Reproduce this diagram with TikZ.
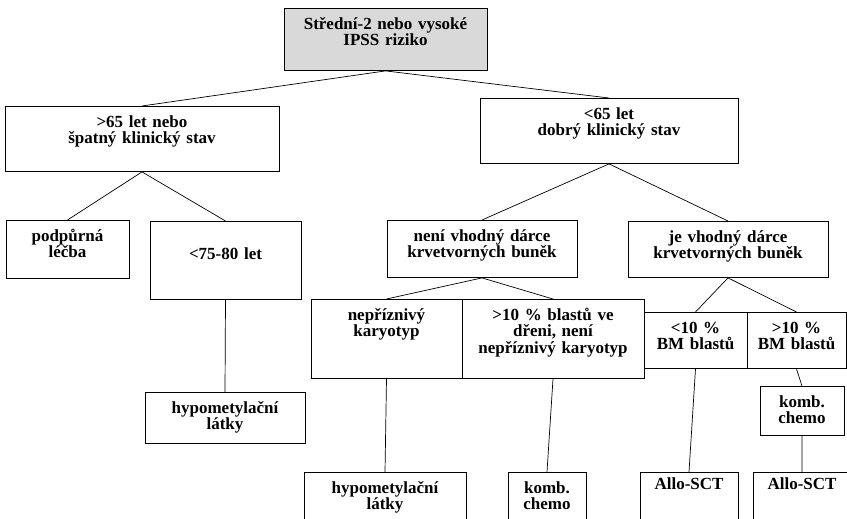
\documentclass[tikz,border=0pt]{standalone}
\usepackage{fontspec}
\setmainfont{Liberation Serif}

\tikzset{
  box/.style 2 args={draw, line width=0.9pt, anchor=north, inner sep=0pt,
    text width=#1, text height=21pt, text depth=#2, align=center,
    font=\fontsize{17}{16.5}\selectfont\bfseries},
  link/.style={line width=0.7pt},
}

\begin{document}
\begin{tikzpicture}[x=1pt,y=-1pt]
    \useasboundingbox (0,0) rectangle (847,519);
    \fill[white] (0,0) rectangle (847,519);
    \clip (0,0) rectangle (847,519);
    % first levels
    \node[box={203pt}{41pt}, fill=gray!30] (risk) at (385.5,8) {Střední-2 nebo vysoké\\IPSS riziko};
    \node[box={274pt}{44pt}] (old) at (142,106) {>65 let nebo\\špatný klinický stav};
    \node[box={258pt}{44pt}] (young) at (609,98) {<65 let\\dobrý klinický stav};
    \node[box={123pt}{37pt}] (support) at (67.5,220) {podpůrná\\léčba};
    \node[box={151pt}{40pt}, text height=38pt] (age) at (225.5,221) {<75-80 let};
    \node[box={160pt}{30pt}] (hypoA) at (225,392) {hypometylační\\látky};
    \node[box={190pt}{36pt}] (nodonor) at (482,220) {není vhodný dárce\\krvetvorných buněk};
    \node[box={200pt}{35pt}] (donor) at (728,221) {je vhodný dárce\\krvetvorných buněk};
    % karyotype / blasts
    \node[box={151pt}{58pt}] (adverse) at (386.5,299) {nepříznivý\\karyotyp};
    \node[box={182pt}{58pt}] (blasts) at (553,299) {>10 \% blastů ve\\dřeni, není\\nepříznivý karyotyp};
    \node[box={103pt}{35pt}] (lowbm) at (695.5,312) {<10 \%\\BM blastů};
    \node[box={99pt}{35pt}] (highbm) at (796.5,312) {>10 \%\\BM blastů};
    \node[box={84pt}{28pt}] (chemoB) at (802,386) {komb.\\chemo};
    % bottom row, cut by the page edge
    \node[box={162pt}{49pt}] (hypoB) at (385,472) {hypometylační\\látky};
    \node[box={78pt}{49pt}] (chemoA) at (547,472) {komb.\\chemo};
    \node[box={98pt}{53pt}, text height=17pt] (alloA) at (689,472) {Allo-SCT};
    \node[box={98pt}{53pt}, text height=17pt] (alloB) at (802,472) {Allo-SCT};

    \draw[link]
    (risk.south) -- (old.north)
    (risk.south) -- (young.north)
    (old.south) -- (support.north)
    (old.south) -- (age.north)
    (age.south) -- (hypoA.north)
    (young.south) -- (nodonor.north)
    (young.south) -- (donor.north)
    (nodonor.south) -- (adverse.north)
    (nodonor.south) -- (blasts.north)
    (donor.south) -- (lowbm.north)
    (donor.south) -- (highbm.north)
    (adverse.south) -- (hypoB.north)
    (blasts.south) -- (chemoA.north)
    (lowbm.south) -- (alloA.north)
    (highbm.south) -- (chemoB.north)
    (chemoB.south) -- (alloB.north)
    ;
\end{tikzpicture}
\end{document}
